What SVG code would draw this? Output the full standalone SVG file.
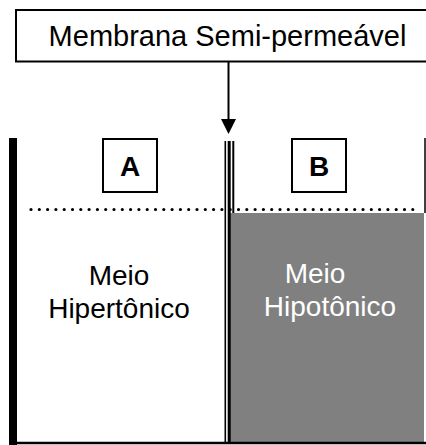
<svg xmlns="http://www.w3.org/2000/svg" width="426" height="445" viewBox="0 0 426 445">
<style>
.t{font-family:"Liberation Sans",Arial,sans-serif;font-size:28px;text-anchor:middle;fill:#000}
.w{fill:#fff}
.b{font-weight:bold;font-size:28px}
.box{fill:#fff;stroke:#000;stroke-width:2}
</style>
<rect width="426" height="445" fill="#fff"/>
<g id="container">
<rect x="230" y="213" width="194" height="230" fill="#808080"/>
<rect x="9" y="138" width="8" height="307" fill="#000"/>
<line x1="9" y1="443" x2="426" y2="443" stroke="#000" stroke-width="2.5"/>
<line x1="425" y1="138" x2="425" y2="213" stroke="#000" stroke-width="1.5"/>
<line x1="31" y1="209.5" x2="421" y2="209.5" stroke="#000" stroke-width="3.2" stroke-linecap="round" stroke-dasharray="0.01 8.29"/>
</g>
<g id="membrane">
<line x1="225.3" y1="141" x2="225.3" y2="443" stroke="#000" stroke-width="1.6"/>
<line x1="229.2" y1="141" x2="229.2" y2="443" stroke="#000" stroke-width="3"/>
<line x1="233.3" y1="141" x2="233.3" y2="213" stroke="#000" stroke-width="2"/>
</g>
<g id="label">
<rect x="16" y="10" width="424" height="51.5" class="box"/>
<text x="227.5" y="46" class="t" style="font-size:29px">Membrana Semi-permeável</text>
</g>
<g id="boxA">
<rect x="103" y="139" width="54" height="53" class="box"/>
<text x="130" y="176" class="t b">A</text>
</g>
<g id="boxB">
<rect x="292" y="139" width="54" height="53" class="box"/>
<text x="319" y="176" class="t b">B</text>
</g>
<g id="hiper">
<text x="119" y="285" class="t">Meio</text>
<text x="119" y="318" class="t">Hipertônico</text>
</g>
<g id="hipo">
<text x="315" y="283" class="t w">Meio</text>
<text x="330" y="316" class="t w">Hipotônico</text>
</g>
<g id="connectors">
<line x1="228.5" y1="62" x2="228.5" y2="122" stroke="#000" stroke-width="2"/>
<polygon points="221,119 236,119 228.5,134" fill="#000"/>
</g>
</svg>
